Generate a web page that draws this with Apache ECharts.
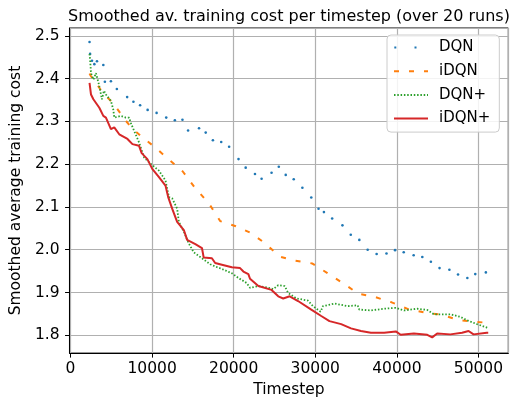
<!DOCTYPE html>
<html>
<head>
<meta charset="utf-8">
<script src="https://cdn.jsdelivr.net/npm/echarts@6/dist/echarts.min.js"></script>
<style>html,body{margin:0;padding:0;background:#fff}#c{width:510px;height:403px}</style>
</head>
<body>
<div id="c"></div>
<script>
const seriesNames = ['DQN', 'iDQN', 'DQN+', 'iDQN+'];

const dqnX = [2330, 2400, 2630, 2920, 3240, 4020, 4210, 4950, 5680, 6940, 7710, 8530, 9450, 10550, 11730, 12790, 13720, 14410, 15750, 16570, 17450, 18470, 19440, 20590, 21470, 22610, 23420, 24640, 25530, 26380, 27360, 28420, 29510, 30400, 31060, 32070, 33330, 34350, 35400, 36420, 37520, 38730, 39780, 40840, 42060, 43120, 44170, 45230, 46440, 47500, 48640, 49610, 50910];
const dqnY = [2.486, 2.458, 2.442, 2.434, 2.441, 2.432, 2.393, 2.394, 2.376, 2.357, 2.346, 2.338, 2.327, 2.320, 2.309, 2.303, 2.304, 2.279, 2.284, 2.274, 2.256, 2.252, 2.241, 2.212, 2.192, 2.177, 2.166, 2.180, 2.194, 2.175, 2.165, 2.145, 2.122, 2.096, 2.088, 2.073, 2.057, 2.035, 2.023, 2.000, 1.990, 1.991, 1.999, 1.994, 1.987, 1.983, 1.972, 1.957, 1.953, 1.942, 1.934, 1.943, 1.947];

const idqnX = [2330, 2470, 3930, 5250, 6680, 7590, 8810, 10330, 12060, 13760, 15240, 16970, 18340, 20260, 22000, 23790, 25650, 27380, 29610, 31440, 33370, 35300, 37220, 39360, 41390, 43680, 45450, 47690, 49850, 51200];
const idqnY = [2.412, 2.407, 2.368, 2.342, 2.304, 2.283, 2.263, 2.240, 2.211, 2.183, 2.145, 2.108, 2.067, 2.055, 2.040, 2.016, 1.984, 1.975, 1.968, 1.946, 1.922, 1.897, 1.890, 1.877, 1.861, 1.852, 1.848, 1.835, 1.831, 1.829];

const dqnpX = [2330, 2400, 2510, 2800, 3120, 3500, 3850, 4100, 4340, 4950, 5240, 5360, 6160, 6770, 7190, 7380, 7800, 8400, 9010, 9820, 10840, 11640, 12060, 12460, 13070, 13280, 13890, 14490, 15100, 16110, 17130, 17730, 18550, 19770, 20580, 21600, 22000, 23020, 24030, 24850, 25460, 26260, 26670, 27690, 29110, 29720, 30650, 30940, 32350, 33980, 35200, 35400, 36820, 38440, 39870, 40880, 42510, 43730, 44530, 46560, 47780, 48600, 49820, 51030, 51200];
const dqnpY = [2.458, 2.444, 2.413, 2.398, 2.413, 2.385, 2.352, 2.372, 2.363, 2.348, 2.328, 2.309, 2.313, 2.309, 2.309, 2.297, 2.278, 2.251, 2.216, 2.201, 2.185, 2.162, 2.123, 2.120, 2.096, 2.065, 2.042, 2.015, 1.994, 1.980, 1.966, 1.961, 1.955, 1.945, 1.934, 1.922, 1.911, 1.915, 1.912, 1.908, 1.917, 1.915, 1.899, 1.886, 1.881, 1.868, 1.855, 1.868, 1.874, 1.868, 1.870, 1.860, 1.858, 1.862, 1.864, 1.858, 1.862, 1.859, 1.849, 1.849, 1.843, 1.835, 1.826, 1.818, 1.817];

const idqnpX = [2330, 2510, 2800, 3530, 4020, 4340, 4950, 5360, 5970, 6980, 7590, 8400, 8720, 9420, 10020, 10840, 11640, 11970, 12460, 13070, 13890, 14290, 15300, 16110, 16320, 17330, 17730, 18550, 19770, 20780, 21190, 21800, 22000, 23020, 24640, 25460, 26070, 26870, 27890, 29510, 30730, 31740, 33170, 34380, 35600, 36820, 38440, 39870, 40470, 42090, 43730, 44330, 44940, 46560, 47990, 48790, 49400, 51030, 51200];
const idqnpY = [2.390, 2.363, 2.352, 2.332, 2.313, 2.309, 2.282, 2.286, 2.270, 2.259, 2.247, 2.243, 2.226, 2.212, 2.189, 2.170, 2.150, 2.123, 2.096, 2.065, 2.046, 2.023, 2.013, 2.004, 1.982, 1.980, 1.969, 1.965, 1.959, 1.957, 1.949, 1.943, 1.932, 1.915, 1.906, 1.891, 1.886, 1.891, 1.880, 1.860, 1.845, 1.833, 1.826, 1.816, 1.810, 1.806, 1.806, 1.809, 1.801, 1.804, 1.801, 1.795, 1.804, 1.802, 1.806, 1.810, 1.802, 1.806, 1.806];

const xTickLabels = ['0', '10000', '20000', '30000', '40000', '50000'];
const yTickLabels = ['1.8', '1.9', '2.0', '2.1', '2.2', '2.3', '2.4', '2.5'];

const zip = (xs, ys) => xs.map((x, i) => [x, ys[i]]);
const FONT = 'DejaVu Sans';

const chart = echarts.init(document.getElementById('c'), null, {renderer: 'canvas'});
chart.setOption({
  animation: false,
  backgroundColor: '#fff',
  textStyle: {fontFamily: FONT, color: '#000'},
  title: {
    text: 'Smoothed av. training cost per timestep (over 20 runs)',
    left: 284, top: 4, textAlign: 'center',
    textStyle: {fontFamily: FONT, fontSize: 16, fontWeight: 'normal', color: '#000'}
  },
  grid: {left: 67, right: 1.7, top: 28, bottom: 47.3, show: true, borderColor: '#000', borderWidth: 1, backgroundColor: 'transparent'},
  legend: {
    orient: 'vertical', left: 387, top: 35,
    itemWidth: 34, itemHeight: 14, itemGap: 8.7,
    padding: [5, 9, 6, 6],
    backgroundColor: 'rgba(255,255,255,0.85)', borderColor: '#cccccc', borderWidth: 1, borderRadius: 4,
    itemStyle: {opacity: 0},
    textStyle: {fontFamily: FONT, fontSize: 15, color: '#000', padding: [0, 0, 0, 6], lineHeight: 15},
    data: [
      {name: 'DQN', icon: 'path://M0.3,0h2v2h-2z M20.5,0h2v2h-2z M0,-6 M34,8', itemStyle: {opacity: 1}},
      'iDQN', 'DQN+', 'iDQN+'
    ]
  },
  xAxis: {
    type: 'value', min: -120, max: 53660, splitNumber: 5,
    name: 'Timestep', nameLocation: 'middle', nameGap: 27,
    nameTextStyle: {fontFamily: FONT, fontSize: 15.5, color: '#000'},
    axisLine: {show: true, onZero: false, lineStyle: {color: '#000', width: 1}},
    axisTick: {show: true, length: 4.5, lineStyle: {color: '#000'}},
    axisLabel: {fontFamily: FONT, fontSize: 15.5, color: '#000', margin: 8, showMinLabel: false, showMaxLabel: false,
      formatter: v => { const s = String(Math.round(v)); return xTickLabels.includes(s) ? s : ''; }},
    splitLine: {show: true, lineStyle: {color: '#b0b0b0', width: 1.2}}
  },
  yAxis: {
    type: 'value', min: 1.7582, max: 2.5186, splitNumber: 7,
    name: 'Smoothed average training cost', nameLocation: 'middle', nameGap: 39,
    nameTextStyle: {fontFamily: FONT, fontSize: 15.5, color: '#000'},
    axisLine: {show: true, onZero: false, lineStyle: {color: '#000', width: 1}},
    axisTick: {show: true, length: 4.5, lineStyle: {color: '#000'}},
    axisLabel: {fontFamily: FONT, fontSize: 15.5, color: '#000', margin: 10, showMinLabel: false, showMaxLabel: false,
      formatter: v => { const s = v.toFixed(1); return (Math.abs(v - parseFloat(s)) < 1e-6 && yTickLabels.includes(s)) ? s : ''; }},
    splitLine: {show: true, lineStyle: {color: '#b0b0b0', width: 1.2}}
  },
  series: [
    {name: 'DQN', type: 'line', data: zip(dqnX, dqnY), color: '#1f77b4',
      showSymbol: true, showAllSymbol: true, symbol: 'circle', symbolSize: 2.6,
      lineStyle: {opacity: 0, width: 0}, itemStyle: {color: '#1f77b4'}, silent: true, z: 2},
    {name: 'iDQN', type: 'line', data: zip(idqnX, idqnY), color: '#ff7f0e', symbol: 'none',
      lineStyle: {color: '#ff7f0e', width: 2, type: [5, 10]}, silent: true, z: 3},
    {name: 'DQN+', type: 'line', data: zip(dqnpX, dqnpY), color: '#2ca02c', symbol: 'none',
      lineStyle: {color: '#2ca02c', width: 1.8, type: [1.5, 1.8]}, silent: true, z: 4},
    {name: 'iDQN+', type: 'line', data: zip(idqnpX, idqnpY), color: '#d62728', symbol: 'none',
      lineStyle: {color: '#d62728', width: 2}, silent: true, z: 5}
  ]
});
</script>
</body>
</html>
